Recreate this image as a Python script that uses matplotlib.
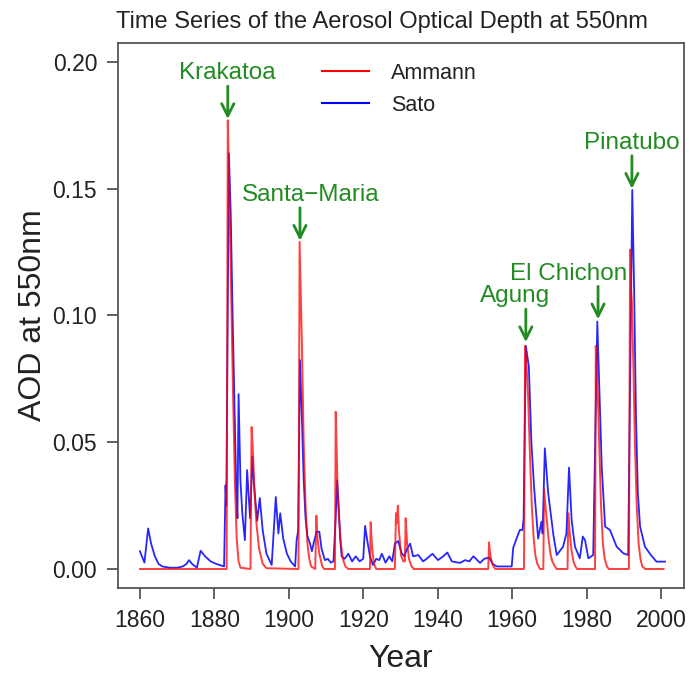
import matplotlib
matplotlib.use("Agg")
import matplotlib.pyplot as plt
from matplotlib.lines import Line2D

plt.rcParams['font.family'] = ['Liberation Sans', 'DejaVu Sans']

# ---------------- data ----------------
ammann_year = [1860.0, 1883.3, 1883.6, 1884.0, 1884.5, 1885.0, 1885.5, 1886.0, 1886.5, 1887.0,
               1889.7, 1890.0, 1890.3, 1890.8, 1891.3, 1892.0, 1893.0, 1894.0,
               1902.6, 1902.9, 1903.5, 1904.0, 1904.5, 1905.0, 1905.5, 1906.0,
               1907.1, 1907.4, 1907.7, 1908.2, 1909.0, 1909.5,
               1912.4, 1912.6, 1912.9, 1913.1, 1913.5, 1914.0, 1914.5, 1915.2, 1916.0,
               1921.8, 1922.0, 1922.4, 1922.9, 1923.5,
               1928.5, 1928.8, 1929.0, 1929.3, 1929.6, 1930.2, 1930.8, 1931.2, 1931.4,
               1931.8, 1932.3, 1933.0, 1933.6,
               1953.6, 1953.8, 1954.2, 1954.8, 1955.5,
               1963.2, 1963.5, 1963.9, 1964.3, 1964.8, 1965.3, 1965.8, 1966.3, 1966.8, 1967.5,
               1968.4, 1968.6, 1968.9, 1969.3, 1969.8, 1970.3, 1970.8, 1971.5, 1972.0,
               1974.9, 1975.1, 1975.5, 1976.0, 1976.5, 1977.0, 1977.5,
               1982.3, 1982.5, 1982.9, 1983.4, 1983.9, 1984.4, 1984.9, 1985.5, 1986.0,
               1991.4, 1991.7, 1992.0, 1992.2, 1992.6, 1993.0, 1993.5, 1994.0, 1994.5,
               1995.0, 1995.8, 2000.7]
ammann_aod = [0.0, 0.0, 0.177, 0.150, 0.110, 0.070, 0.035, 0.012, 0.003, 0.0005,
              0.0, 0.056, 0.048, 0.030, 0.018, 0.008, 0.002, 0.0003,
              0.0, 0.129, 0.090, 0.050, 0.025, 0.010, 0.004, 0.001,
              0.0, 0.021, 0.012, 0.006, 0.001, 0.0,
              0.0, 0.062, 0.045, 0.030, 0.020, 0.010, 0.004, 0.001, 0.0,
              0.0, 0.0185, 0.008, 0.002, 0.0,
              0.0, 0.022, 0.018, 0.025, 0.015, 0.005, 0.003, 0.003, 0.020,
              0.010, 0.004, 0.001, 0.0,
              0.0, 0.0105, 0.005, 0.0015, 0.0,
              0.0, 0.088, 0.080, 0.068, 0.045, 0.025, 0.012, 0.005, 0.002, 0.0,
              0.0, 0.0315, 0.026, 0.020, 0.012, 0.006, 0.003, 0.001, 0.0,
              0.0, 0.022, 0.014, 0.007, 0.003, 0.001, 0.0,
              0.0, 0.088, 0.075, 0.050, 0.025, 0.010, 0.004, 0.001, 0.0,
              0.0, 0.126, 0.110, 0.105, 0.080, 0.050, 0.025, 0.010, 0.004,
              0.001, 0.0, 0.0]

sato_year = [1860.0, 1861.2, 1862.2, 1863.0, 1864.0, 1865.0, 1866.0, 1868.0, 1870.0, 1871.5,
             1872.5, 1873.2, 1874.0, 1875.3, 1876.3, 1877.5, 1879.0, 1880.5, 1882.6, 1883.0,
             1883.2, 1883.9, 1884.4, 1884.9, 1885.4, 1885.9, 1886.2, 1886.5, 1887.0, 1887.5,
             1888.2, 1888.8, 1889.6, 1890.2, 1890.6, 1891.5, 1892.2, 1893.0, 1894.0, 1895.4,
             1896.5, 1897.2, 1897.7, 1898.5, 1899.5, 1900.5, 1901.7, 1902.1, 1902.5, 1903.0,
             1903.5, 1904.0, 1904.5, 1905.0, 1905.7, 1906.2, 1906.8, 1907.5, 1908.2, 1908.8,
             1909.7, 1910.5, 1911.3, 1912.0, 1912.6, 1913.0, 1913.4, 1913.8, 1914.2, 1915.0,
             1916.0, 1917.0, 1918.0, 1919.0, 1920.0, 1920.5, 1921.0, 1921.8, 1922.6, 1923.5,
             1924.3, 1925.0, 1926.0, 1927.0, 1927.8, 1928.5, 1929.4, 1930.3, 1931.0, 1931.8,
             1932.6, 1933.4, 1934.8, 1936.1, 1937.0, 1938.6, 1940.1, 1941.5, 1942.6, 1943.8,
             1946.0, 1947.4, 1948.5, 1949.6, 1951.4, 1952.5, 1953.8, 1954.8, 1955.9, 1959.9,
             1960.3, 1961.2, 1962.1, 1962.8, 1963.1, 1963.7, 1964.5, 1965.2, 1965.9, 1967.0,
             1967.9, 1968.2, 1968.8, 1969.7, 1971.1, 1972.0, 1973.7, 1974.6, 1975.3, 1976.0,
             1976.9, 1978.2, 1979.0, 1979.6, 1980.5, 1981.8, 1982.9, 1983.4, 1984.1, 1985.0,
             1986.3, 1988.1, 1989.9, 1991.2, 1992.3, 1992.8, 1993.3, 1993.8, 1994.4, 1995.7,
             1997.3, 1998.8, 2001.1]
sato_aod = [0.0070, 0.0025, 0.0160, 0.0100, 0.0050, 0.0020, 0.0010, 0.0005, 0.0005, 0.0010,
            0.0020, 0.0035, 0.0020, 0.0005, 0.0072, 0.0050, 0.0030, 0.0020, 0.0010, 0.0330,
            0.0250, 0.1640, 0.1400, 0.1000, 0.0650, 0.0300, 0.0200, 0.0690, 0.0350, 0.0220,
            0.0114, 0.0390, 0.0200, 0.0443, 0.0340, 0.0190, 0.0280, 0.0150, 0.0060, 0.0016,
            0.0284, 0.0140, 0.0220, 0.0120, 0.0060, 0.0030, 0.0010, 0.0114, 0.0150, 0.0824,
            0.0600, 0.0350, 0.0200, 0.0130, 0.0100, 0.0070, 0.0110, 0.0147, 0.0147, 0.0080,
            0.0035, 0.0040, 0.0025, 0.0030, 0.0200, 0.0350, 0.0250, 0.0120, 0.0050, 0.0040,
            0.0060, 0.0030, 0.0050, 0.0030, 0.0040, 0.0170, 0.0120, 0.0050, 0.0016, 0.0040,
            0.0035, 0.0060, 0.0025, 0.0050, 0.0030, 0.0100, 0.0110, 0.0063, 0.0050, 0.0080,
            0.0100, 0.0050, 0.0055, 0.0030, 0.0040, 0.0060, 0.0035, 0.0050, 0.0065, 0.0030,
            0.0024, 0.0035, 0.0030, 0.0050, 0.0024, 0.0040, 0.0045, 0.0020, 0.0010, 0.0010,
            0.0083, 0.0120, 0.0154, 0.0154, 0.0200, 0.0880, 0.0798, 0.0496, 0.0325, 0.0120,
            0.0187, 0.0140, 0.0476, 0.0300, 0.0134, 0.0055, 0.0088, 0.0140, 0.0400, 0.0193,
            0.0088, 0.0042, 0.0128, 0.0114, 0.0042, 0.0055, 0.0976, 0.0730, 0.0400, 0.0167,
            0.0154, 0.0088, 0.0062, 0.0055, 0.1495, 0.1100, 0.0600, 0.0300, 0.0167, 0.0088,
            0.0055, 0.0029, 0.0029]

x_ticks = [1860, 1880, 1900, 1920, 1940, 1960, 1980, 2000]
y_ticks = [0.00, 0.05, 0.10, 0.15, 0.20]
y_tick_labels = ["0.00", "0.05", "0.10", "0.15", "0.20"]

volcano_names = ["Krakatoa", "Santa\u2212Maria", "Agung", "El Chichon", "Pinatubo"]
volcano_year = [1883.6, 1903.0, 1963.7, 1983.1, 1992.2]
volcano_peak = [0.177, 0.129, 0.089, 0.098, 0.1495]

# ---------------- styling / layout ----------------
green = "#228B22"
W, H = 689, 673
fig = plt.figure(figsize=(W / 100, H / 100), dpi=100)
ax = fig.add_axes([118 / W, (H - 588) / H, (684 - 118) / W, (588 - 42.7) / H])

ax.plot(sato_year, sato_aod, color="#0000FF", lw=1.3, alpha=0.85, zorder=2)
ax.plot(ammann_year, ammann_aod, color="#FF0000", lw=1.4, alpha=0.75, zorder=3)

ax.set_xlim(1854.1, 2006.2)
ax.set_ylim(-0.0075, 0.2076)
ax.set_xticks(x_ticks)
ax.set_yticks(y_ticks)
ax.set_yticklabels(y_tick_labels)

for s in ax.spines.values():
    s.set_color("#555555")
    s.set_linewidth(1.3)
ax.tick_params(axis="both", length=8, width=1.3, color="#555555",
               labelsize=16.5, labelcolor="#222222", pad=7)

ax.set_xlabel("Year", fontsize=23, color="#222222", labelpad=9)
ax.set_ylabel("AOD at 550nm", fontsize=23, color="#222222", labelpad=3)

fig.text(382 / W, 1 - 22 / H, "Time Series of the Aerosol Optical Depth at 550nm",
         ha="center", va="center", fontsize=17, color="#222222")

# annotations: text offsets (in AOD / years) relative to peaks
text_dx = [0.0, 2.9, -2.9, -8.0, 0.0]
text_dy = [0.0185, 0.0185, 0.0185, 0.0185, 0.0185]
for name, yr, pk, dx, dy in zip(volcano_names, volcano_year, volcano_peak, text_dx, text_dy):
    ax.annotate("", xy=(yr, pk + 0.0005), xytext=(yr, pk + 0.0135),
                arrowprops=dict(arrowstyle="->", color=green, lw=2.0,
                                mutation_scale=22, shrinkA=0, shrinkB=0))
    ax.text(yr + dx, pk + dy, name, ha="center", va="center",
            fontsize=17.5, color=green)

handles = [Line2D([], [], color="#FF0000", lw=1.5), Line2D([], [], color="#0000FF", lw=1.5)]
fig.legend(handles, ["Ammann", "Sato"], loc="upper left",
           bbox_to_anchor=(322 / W, 1 - 63 / H), frameon=False, fontsize=15.5,
           handlelength=2.2, handletextpad=1.0, labelspacing=0.5,
           borderpad=0, borderaxespad=0, labelcolor="#222222")

fig.savefig("out.png", dpi=100)
